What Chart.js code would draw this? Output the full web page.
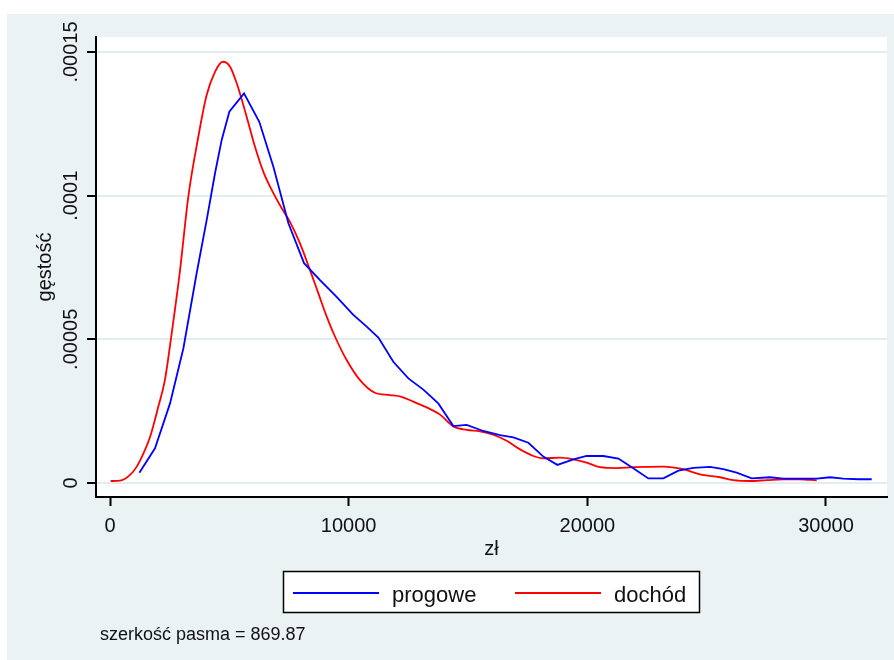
<!DOCTYPE html>
<html lang="pl">
<head>
<meta charset="utf-8">
<title>gęstość: progowe i dochód</title>
<script src="https://cdn.jsdelivr.net/npm/chart.js@4.4.1/dist/chart.umd.min.js"></script>
<style>
  html, body { margin: 0; padding: 0; background: #fff; width: 894px; height: 660px; overflow: hidden; }
  #tlo { position: absolute; left: 7px; top: 14px; width: 887px; height: 646px; background: #EAF2F3; }
  #wykres { position: absolute; left: 0; top: 0; }
</style>
</head>
<body>
<div id="tlo"></div>
<canvas id="wykres" width="894" height="660"></canvas>
<script>
// Kernel density estimates (zł -> gęstość)
const progoweZl = [1230, 1885, 2515, 3075, 3630, 4050, 4400, 4680, 5000, 5615, 6255, 6845, 7475, 8130, 8800, 9495,
  10195, 10755, 11245, 11870, 12500, 13130, 13755, 14385, 14945, 15640, 16340, 16900, 17530, 18155, 18745, 19415,
  19970, 20670, 21300, 21925, 22555, 23185, 23815, 24440, 25140, 25700, 26255, 26885, 27655, 28210, 28910, 29610,
  30170, 30725, 31355, 31915];
const progoweGestosc = [0.36e-5, 1.21e-5, 2.77e-5, 4.69e-5, 7.30e-5, 9.15e-5, 10.78e-5, 11.94e-5, 12.92e-5, 13.56e-5,
  12.57e-5, 11.01e-5, 9.04e-5, 7.65e-5, 7.06e-5, 6.48e-5, 5.85e-5, 5.44e-5, 5.06e-5, 4.22e-5, 3.64e-5, 3.25e-5,
  2.77e-5, 1.98e-5, 2.02e-5, 1.81e-5, 1.67e-5, 1.59e-5, 1.40e-5, 0.92e-5, 0.63e-5, 0.82e-5, 0.94e-5, 0.94e-5,
  0.85e-5, 0.51e-5, 0.16e-5, 0.16e-5, 0.43e-5, 0.53e-5, 0.56e-5, 0.48e-5, 0.36e-5, 0.16e-5, 0.20e-5, 0.15e-5,
  0.15e-5, 0.15e-5, 0.20e-5, 0.15e-5, 0.13e-5, 0.13e-5];

const dochodZl = [30, 420, 840, 1120, 1400, 1680, 2025, 2300, 2585, 2935, 3280, 3700, 4050, 4400, 4720, 5030, 5310,
  5725, 6075, 6425, 6775, 7195, 7540, 7960, 8380, 8730, 9080, 9430, 9915, 10475, 11100, 11730, 12220, 12710, 13270,
  13830, 14385, 14945, 15500, 16060, 16620, 17180, 17740, 18155, 18855, 19415, 19970, 20530, 21230, 21925, 23185,
  24020, 24720, 25560, 26115, 26815, 27515, 28210, 28910, 29610];
const dochodGestosc = [0.07e-5, 0.08e-5, 0.28e-5, 0.57e-5, 1.03e-5, 1.61e-5, 2.66e-5, 3.58e-5, 5.21e-5, 7.41e-5,
  9.96e-5, 12.05e-5, 13.50e-5, 14.31e-5, 14.66e-5, 14.49e-5, 13.91e-5, 12.75e-5, 11.70e-5, 10.83e-5, 10.20e-5,
  9.56e-5, 9.09e-5, 8.34e-5, 7.41e-5, 6.60e-5, 5.79e-5, 5.09e-5, 4.28e-5, 3.58e-5, 3.14e-5, 3.06e-5, 3.00e-5,
  2.83e-5, 2.63e-5, 2.38e-5, 1.97e-5, 1.85e-5, 1.80e-5, 1.68e-5, 1.47e-5, 1.17e-5, 0.94e-5, 0.86e-5, 0.88e-5,
  0.82e-5, 0.71e-5, 0.55e-5, 0.52e-5, 0.55e-5, 0.57e-5, 0.48e-5, 0.30e-5, 0.20e-5, 0.10e-5, 0.07e-5, 0.10e-5,
  0.13e-5, 0.13e-5, 0.09e-5];

const xTicks = [0, 10000, 20000, 30000];
const yTicks = [0, 0.00005, 0.0001, 0.00015];
const yTickLabels = ['0', '.00005', '.0001', '.00015'];
const seriesNames = ['progowe', 'dochód'];
const xTitle = 'zł';
const yTitle = 'gęstość';
const noteText = 'szerkość pasma = 869.87';

const FONT = '"Liberation Sans", Arial, Helvetica, sans-serif';
const INK = '#111';

const toPoints = (xs, ys) => xs.map((x, i) => ({ x, y: ys[i] }));

// White plot region, rotated y labels, titles, legend box and note
const stataLook = {
  id: 'stataLook',
  beforeDraw(chart) {
    const { ctx, chartArea: a } = chart;
    ctx.save();
    ctx.fillStyle = '#fff';
    ctx.fillRect(a.left, a.top, a.right - a.left, a.bottom - a.top);
    ctx.restore();
  },
  afterDraw(chart) {
    const { ctx, chartArea: a, scales } = chart;
    const y = scales.y;
    ctx.save();
    ctx.fillStyle = INK;
    ctx.font = '20px ' + FONT;
    ctx.textAlign = 'center';
    ctx.textBaseline = 'alphabetic';

    yTicks.forEach((v, i) => {
      ctx.save();
      ctx.translate(a.left - 19, y.getPixelForValue(v));
      ctx.rotate(-Math.PI / 2);
      ctx.fillText(yTickLabels[i], 0, 0);
      ctx.restore();
    });

    ctx.save();
    ctx.translate(a.left - 45, (a.top + a.bottom) / 2);
    ctx.rotate(-Math.PI / 2);
    ctx.fillText(yTitle, 0, 0);
    ctx.restore();

    const cx = (a.left + a.right) / 2;
    ctx.fillText(xTitle, cx, a.bottom + 58);

    // legend
    const w = 417, h = 42;
    const lx = Math.round(cx - w / 2), ly = a.bottom + 74;
    ctx.fillStyle = '#fff';
    ctx.fillRect(lx, ly, w, h);
    ctx.strokeStyle = '#000';
    ctx.lineWidth = 1.5;
    ctx.strokeRect(lx + 0.5, ly + 0.5, w - 1, h - 1);
    ctx.font = '22px ' + FONT;
    ctx.textAlign = 'left';
    const items = [[10, 109], [232, 331]];
    chart.data.datasets.forEach((ds, i) => {
      const [ls, tx] = items[i];
      ctx.strokeStyle = ds.borderColor;
      ctx.lineWidth = 2;
      ctx.beginPath();
      ctx.moveTo(lx + ls, ly + 22);
      ctx.lineTo(lx + ls + 86, ly + 22);
      ctx.stroke();
      ctx.fillStyle = INK;
      ctx.fillText(seriesNames[i], lx + tx, ly + 31);
    });

    ctx.font = '18px ' + FONT;
    ctx.fillText(noteText, a.left + 4, a.bottom + 143);
    ctx.restore();
  }
};

new Chart(document.getElementById('wykres'), {
  type: 'line',
  data: {
    datasets: [
      {
        label: seriesNames[0],
        data: toPoints(progoweZl, progoweGestosc),
        borderColor: '#0000FF',
        borderWidth: 1.8,
        pointRadius: 0,
        tension: 0,
        fill: false
      },
      {
        label: seriesNames[1],
        data: toPoints(dochodZl, dochodGestosc),
        borderColor: '#FF0000',
        borderWidth: 1.8,
        pointRadius: 0,
        cubicInterpolationMode: 'monotone',
        fill: false
      }
    ]
  },
  options: {
    responsive: false,
    animation: false,
    devicePixelRatio: 1,
    layout: { padding: { left: 86, top: 37, right: 7, bottom: 123 } },
    plugins: { legend: { display: false }, tooltip: { enabled: false } },
    scales: {
      x: {
        type: 'linear',
        min: -587,
        max: 32556,
        afterBuildTicks: s => { s.ticks = xTicks.map(v => ({ value: v })); },
        afterFit: s => { s.height = 40; },
        grid: { drawOnChartArea: false, drawTicks: true, tickLength: 9, tickColor: '#000', tickWidth: 2 },
        border: { display: true, color: '#000', width: 2 },
        ticks: {
          font: { size: 20, family: FONT },
          color: INK,
          padding: 8,
          maxRotation: 0,
          autoSkip: false,
          callback: v => String(v)
        }
      },
      y: {
        type: 'linear',
        min: -0.000004872,
        max: 0.00015522,
        afterBuildTicks: s => { s.ticks = yTicks.map(v => ({ value: v })); },
        afterFit: s => { s.width = 10; },
        grid: { color: '#E3ECEE', lineWidth: 2, drawTicks: true, tickLength: 9, tickColor: '#000', tickWidth: 2 },
        border: { display: true, color: '#000', width: 2 },
        ticks: { display: false }
      }
    }
  },
  plugins: [stataLook]
});
</script>
</body>
</html>
